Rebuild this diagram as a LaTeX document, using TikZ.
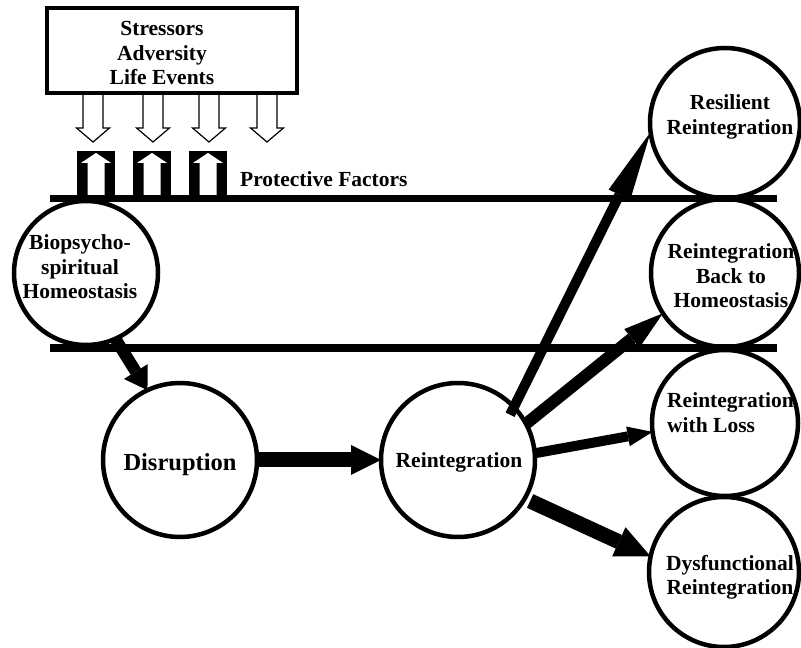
\documentclass[tikz,border=0pt]{standalone}
\usepackage{fontspec}
\setmainfont{Liberation Serif}
\usetikzlibrary{arrows.meta}

\begin{document}
\begin{tikzpicture}[x=1pt,y=1pt,
    state/.style={draw, circle, line width=4.5pt, inner sep=0pt, outer sep=0pt, minimum size=#1},
    lbl/.style={font=\fontsize{21.5}{24.5}\selectfont\bfseries, align=center, inner sep=0pt},
    flow/.style={draw, line width=#1}
]
    \useasboundingbox (0,0) rectangle (801,648);
    % stressors box with hollow arrows
    \node[draw, line width=4.5pt, minimum width=250pt, minimum height=85pt, inner sep=0pt] (stress) at (172,597.5) {};
    \node[lbl] (stresstext) at (162,595) {Stressors\\Adversity\\Life Events};
    \foreach \x in {93,153,209,267}
        \draw[line width=1.2pt] (\x-10,553) -- (\x-10,520) -- (\x-16.5,520) -- (\x,506)
            -- (\x+16.5,520) -- (\x+10,520) -- (\x+10,553);
    % protective factors
    \foreach \x in {96,152,208} {
        \fill (\x-19,452) rectangle (\x+19,497);
        \fill[white] (\x-8.5,452) -- (\x-8.5,485) -- (\x-15,485) -- (\x,495)
            -- (\x+15,485) -- (\x+8.5,485) -- (\x+8.5,452) -- cycle;
    }
    \node[lbl, anchor=base west] (prot) at (240,461) {Protective Factors};
    \draw[line width=7pt] (50,449) -- (777,449);
    \draw[line width=8pt] (50,300) -- (777,300);
    % states
    \node[state=144pt] (bio) at (86,375) {};
    \node[state=154pt] (dis) at (180,188) {};
    \node[state=154pt] (rei) at (458,188) {};
    \node[state=150pt] (res) at (725,525) {};
    \node[state=148pt] (back) at (725,375) {};
    \node[state=146pt] (loss) at (725,225) {};
    \node[state=150pt] (dys) at (724,76) {};
    \node[lbl] (biotext) at (80,381) {Biopsycho-\\spiritual\\Homeostasis};
    \node[lbl, font=\fontsize{24.5}{28}\selectfont\bfseries] (distext) at (180,183) {Disruption};
    \node[lbl] (reitext) at (459,186) {Reintegration};
    \node[lbl] (restext) at (730,531) {Resilient\\Reintegration};
    \node[lbl] (backtext) at (731,372) {Reintegration\\Back to\\Homeostasis};
    \node[lbl, align=left, anchor=west] (losstext) at (667,235.5) {Reintegration\\with Loss};
    \node[lbl] (dystext) at (730,70.5) {Dysfunctional\\Reintegration};
    % arrows
    \coordinate (resfoot) at ([shift={(41:69pt)}]rei.center);
    \draw[flow=12pt, -{Triangle[length=22pt, width=28pt, line width=0pt]}] (bio.-66) -- (dis.115);
    \draw[flow=15pt, -{Triangle[length=30pt, width=30pt, line width=0pt]}] (dis.east) -- (rei.west);
    \draw[flow=10pt, -{Triangle[length=70pt, width=24pt, line width=0pt]}] (resfoot) -- (res.187);
    \draw[flow=12pt, -{Triangle[length=40pt, width=24pt, line width=0pt]}] (rei.28) -- (back.213);
    \draw[flow=10pt, -{Triangle[length=25pt, width=20pt, line width=0pt]}] (rei.5) -- (loss.187);
    \draw[flow=15pt, shorten <=6pt, -{Triangle[length=35pt, width=32pt, line width=0pt]}] (rei.-30) -- (dys.168);
\end{tikzpicture}
\end{document}
